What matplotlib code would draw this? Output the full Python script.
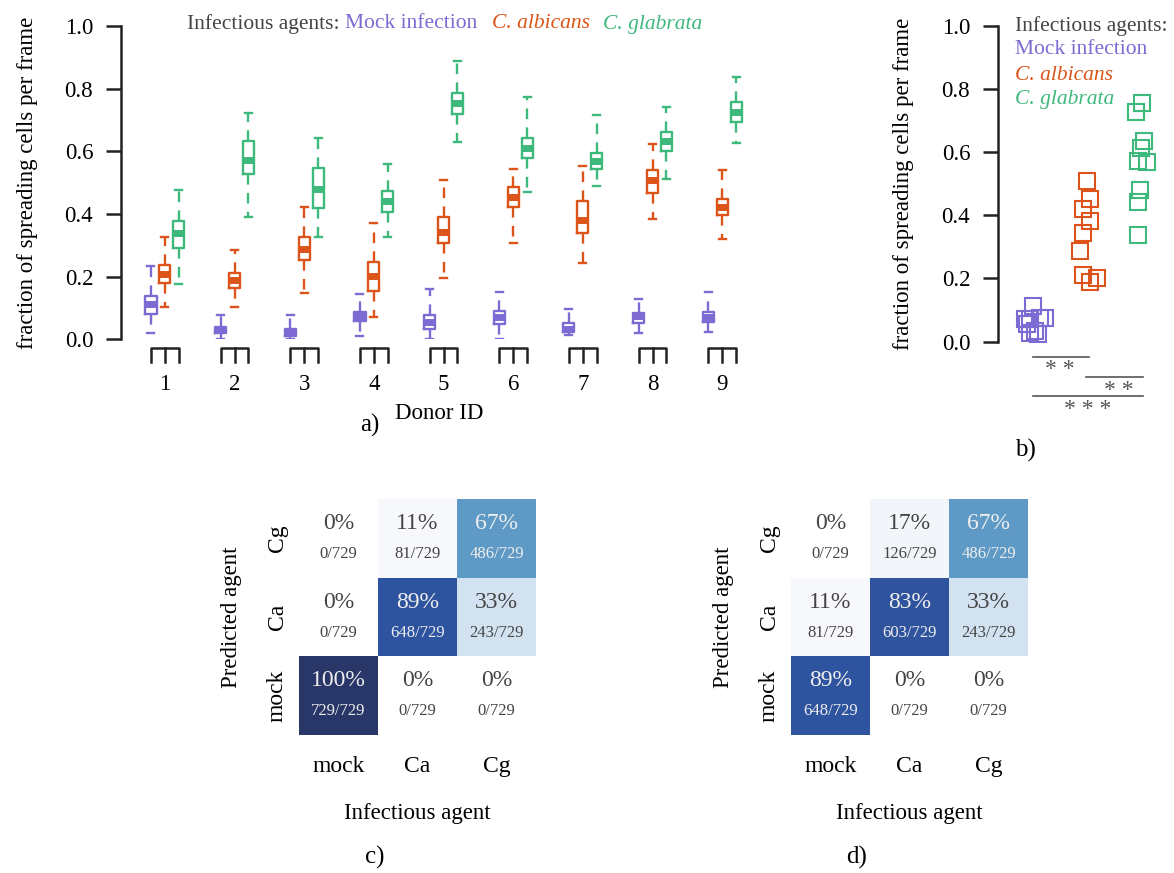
import matplotlib.pyplot as plt
import numpy as np
from matplotlib.colors import LinearSegmentedColormap

plt.rcParams['font.family'] = ['Liberation Serif', 'DejaVu Serif']

# colours of the three infectious agents
c_mock = '#7d6ad2'
c_ca = '#dc5419'
c_cg = '#3db97c'

donors = [1, 2, 3, 4, 5, 6, 7, 8, 9]

# box statistics per donor
mock_lo = [0.020, 0.002, 0.002, 0.011, 0.002, 0.002, 0.013, 0.021, 0.023]
mock_q1 = [0.080, 0.020, 0.011, 0.059, 0.032, 0.048, 0.023, 0.051, 0.055]
mock_med = [0.112, 0.029, 0.023, 0.075, 0.056, 0.071, 0.034, 0.075, 0.072]
mock_q3 = [0.137, 0.040, 0.034, 0.087, 0.077, 0.091, 0.053, 0.083, 0.087]
mock_hi = [0.235, 0.077, 0.078, 0.146, 0.159, 0.150, 0.098, 0.130, 0.152]

ca_lo = [0.103, 0.103, 0.149, 0.072, 0.197, 0.307, 0.242, 0.384, 0.319]
ca_q1 = [0.181, 0.165, 0.253, 0.155, 0.306, 0.421, 0.339, 0.468, 0.396]
ca_med = [0.210, 0.189, 0.288, 0.202, 0.344, 0.453, 0.381, 0.508, 0.421]
ca_q3 = [0.237, 0.213, 0.325, 0.247, 0.389, 0.485, 0.440, 0.540, 0.447]
ca_hi = [0.327, 0.285, 0.421, 0.371, 0.508, 0.543, 0.552, 0.623, 0.540]

cg_lo = [0.178, 0.389, 0.325, 0.325, 0.630, 0.471, 0.489, 0.511, 0.626]
cg_q1 = [0.291, 0.527, 0.419, 0.406, 0.719, 0.578, 0.542, 0.602, 0.694]
cg_med = [0.339, 0.572, 0.481, 0.441, 0.754, 0.612, 0.568, 0.634, 0.726]
cg_q3 = [0.376, 0.634, 0.548, 0.472, 0.785, 0.644, 0.596, 0.662, 0.758]
cg_hi = [0.477, 0.723, 0.642, 0.559, 0.887, 0.773, 0.717, 0.740, 0.837]

# horizontal jitter of the donor medians in panel b
mock_jit = [0.0, -0.05, 0.10, 0.13, -0.10, -0.15, 0.04, 0.22, -0.05]
ca_jit = [-0.07, 0.07, -0.11, 0.20, -0.06, 0.06, 0.06, 0.02, -0.06]
cg_jit = [-0.04, -0.04, 0.0, -0.04, 0.04, 0.02, 0.13, 0.07, -0.07]

# confusion matrices (rows = predicted mock, Ca, Cg; cols = true mock, Ca, Cg)
agents = ['mock', 'Ca', 'Cg']
total = 729
conf_c = [[729, 0, 0],
          [0, 648, 243],
          [0, 81, 486]]
conf_d = [[648, 0, 0],
          [81, 603, 243],
          [0, 126, 486]]

fig = plt.figure(figsize=(11.74, 8.73), dpi=100)
W, H = 1174, 873


def px_axes(x0, y0, x1, y1):
    return fig.add_axes([x0 / W, 1 - y1 / H, (x1 - x0) / W, (y1 - y0) / H])


def style_yaxis(a):
    a.set_ylim(0, 1)
    a.set_yticks(np.arange(0, 1.01, 0.2))
    a.set_yticklabels(['%.1f' % v for v in np.arange(0, 1.01, 0.2)])
    a.tick_params(axis='y', length=11, width=1.8, labelsize=16.5,
                  color='#222222', pad=9)
    for s in ['top', 'right', 'bottom']:
        a.spines[s].set_visible(False)
    a.spines['left'].set_linewidth(1.8)
    a.spines['left'].set_color('#222222')


# ---------------- panel a ----------------
ax = px_axes(121, 26, 757, 339.3)
off = 0.2
groups = [
    (-off, c_mock, mock_lo, mock_q1, mock_med, mock_q3, mock_hi),
    (0.0, c_ca, ca_lo, ca_q1, ca_med, ca_q3, ca_hi),
    (off, c_cg, cg_lo, cg_q1, cg_med, cg_q3, cg_hi),
]
for dx, col, lo, q1, med, q3, hi in groups:
    stats = []
    for i in range(len(donors)):
        stats.append(dict(whislo=lo[i], q1=q1[i], med=med[i], q3=q3[i],
                          whishi=hi[i], fliers=[]))
    ax.bxp(stats, positions=[d + dx for d in donors], widths=0.16,
           showfliers=False, capwidths=0.1,
           boxprops=dict(color=col, linewidth=1.7),
           medianprops=dict(color=col, linewidth=5, solid_capstyle='butt'),
           whiskerprops=dict(color=col, linewidth=1.7, linestyle=(0, (4.5, 3.5))),
           capprops=dict(color=col, linewidth=1.7))

# bracket marks under each donor
for d in donors:
    ax.plot([d - off, d - off, d + off, d + off], [-0.073, -0.028, -0.028, -0.073],
            color='#222222', lw=1.8, clip_on=False)
    ax.plot([d, d], [-0.028, -0.073], color='#222222', lw=1.8, clip_on=False)

ax.set_xlim(0.37, 9.5)
style_yaxis(ax)
ax.set_xticks(donors)
ax.set_xticklabels([str(d) for d in donors])
ax.tick_params(axis='x', length=0, pad=25, labelsize=16.5)
ax.set_ylabel('fraction of spreading cells per frame', fontsize=16.5, labelpad=19)
ax.set_xlabel('Donor ID', fontsize=16.5, labelpad=6)

# legend line on top of panel a
for x0, txt, col, sty in [(187, 'Infectious agents:', '#444444', 'normal'),
                          (345, 'Mock infection', c_mock, 'normal'),
                          (492, 'C. albicans', c_ca, 'italic'),
                          (603, 'C. glabrata', c_cg, 'italic')]:
    fig.text(x0 / W, 1 - 24 / H, txt, fontsize=15.5, color=col, style=sty,
             va='center', ha='left')

fig.text(370 / W, 1 - 425 / H, 'a)', fontsize=18, ha='center', va='center')

# ---------------- panel b ----------------
bx = px_axes(998, 25.7, 1172, 341.7)
for k, (med, jit, col) in enumerate([(mock_med, mock_jit, c_mock),
                                     (ca_med, ca_jit, c_ca),
                                     (cg_med, cg_jit, c_cg)]):
    bx.plot([k + j for j in jit], med, 's', ms=12, mfc='none', mec=col,
            mew=1.5, clip_on=False)
bx.set_xlim(-0.65, 2.6)
style_yaxis(bx)
bx.set_xticks([])
bx.set_ylabel('fraction of spreading cells per frame', fontsize=16.5, labelpad=20)

# significance bars
sig = [(0, 1, -0.048, '* *', 0.5), (1, 2, -0.112, '* *', 1.6),
       (0, 2, -0.172, '* * *', 1.03)]
for a, b, yv, lab, xt in sig:
    bx.plot([a, b + 0.05], [yv, yv], color='#555555', lw=1.2, clip_on=False)
    bx.text(xt, yv - 0.008, lab, ha='center', va='top', fontsize=17,
            color='#555555')

bx.text(0.1, 1.0, 'Infectious agents:', transform=bx.transAxes, fontsize=15.5,
        color='#444444', va='center')
bx.text(0.1, 0.925, 'Mock infection', transform=bx.transAxes, fontsize=15.5,
        color=c_mock, va='center')
bx.text(0.1, 0.843, 'C. albicans', transform=bx.transAxes, fontsize=15.5,
        color=c_ca, va='center', style='italic')
bx.text(0.1, 0.765, 'C. glabrata', transform=bx.transAxes, fontsize=15.5,
        color=c_cg, va='center', style='italic')

fig.text(1025 / W, 1 - 450 / H, 'b)', fontsize=18, ha='center', va='center')

# ---------------- panels c and d ----------------
cmap = LinearSegmentedColormap.from_list(
    'conf', [(0.0, '#ffffff'), (0.05, '#ffffff'), (0.11, '#f6f8fc'),
             (0.17, '#f3f6fb'), (0.33, '#d4e3f2'), (0.67, '#5e9ac6'),
             (0.83, '#30529d'), (0.89, '#2f55a0'), (1.0, '#283668')])


def conf_panel(x0, conf, lab, labx):
    cx = px_axes(x0, 499, x0 + 237, 735)
    m = np.array(conf) / total
    cx.imshow(m, cmap=cmap, vmin=0, vmax=1, origin='lower', aspect='auto')
    for i in range(3):
        for j in range(3):
            col = '#eeeeee' if m[i, j] > 0.5 else '#444444'
            cx.text(j, i + 0.19, '%d%%' % round(m[i, j] * 100), ha='center',
                    va='center', fontsize=17, color=col)
            cx.text(j, i - 0.2, '%d/%d' % (conf[i][j], total), ha='center',
                    va='center', fontsize=12, color=col)
    cx.set_xticks(range(3))
    cx.set_xticklabels(agents)
    cx.set_yticks(range(3))
    cx.set_yticklabels(agents, rotation=90, va='center')
    cx.tick_params(length=0, labelsize=17)
    cx.tick_params(axis='x', pad=15)
    cx.tick_params(axis='y', pad=8)
    for s in cx.spines.values():
        s.set_visible(False)
    cx.set_xlabel('Infectious agent', fontsize=16.5, labelpad=19)
    cx.set_ylabel('Predicted agent', fontsize=16.5, labelpad=18)
    fig.text(labx / W, 1 - 857 / H, lab, fontsize=18, ha='center',
             va='center')


conf_panel(299, conf_c, 'c)', 375)
conf_panel(791, conf_d, 'd)', 857)

fig.savefig('out.png', dpi=100)
